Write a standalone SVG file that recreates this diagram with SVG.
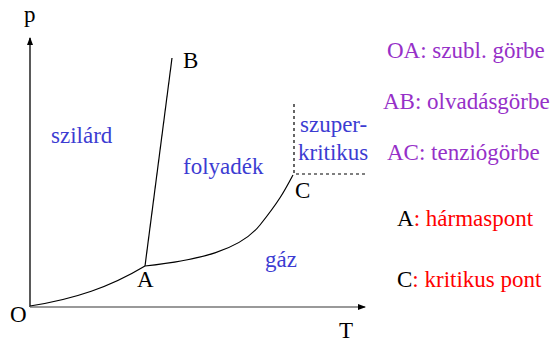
<svg xmlns="http://www.w3.org/2000/svg" width="555" height="342" viewBox="0 0 555 342">
<style>
text{font-family:"Liberation Serif",Tinos,"Times New Roman",Times,"Noto Serif","DejaVu Serif",serif;font-size:23px}
.blk{fill:#000}
.blue{fill:#3c3cd2}
.pur{fill:#9630c8}
.red{fill:#ff0000}
.curve{fill:none;stroke:#000;stroke-width:1.2}
.dash{fill:none;stroke:#000;stroke-width:1.2;stroke-dasharray:3,3}
</style>
<defs>
<marker id="ah" markerWidth="8" markerHeight="6" refX="7" refY="3" orient="auto" markerUnits="userSpaceOnUse">
<path d="M0,0 L8,3 L0,6 Z" fill="#000"/>
</marker>
</defs>
<rect width="555" height="342" fill="#fff"/>
<g id="connectors">
<line x1="30" y1="307" x2="30" y2="38" stroke="#000" stroke-width="1.3" marker-end="url(#ah)"/>
<line x1="30" y1="307" x2="365" y2="307" stroke="#999" stroke-width="2" marker-end="url(#ah)"/>
<path class="curve" d="M30,306 C75,299 110,287 145,266"/>
<path class="curve" d="M145,266 L172,58"/>
<path class="curve" d="M145,266 C200,260 240,250 260,225 S285,190 293,175"/>
<path class="dash" d="M294,104 L294,174 L367,174"/>
</g>
<g id="axis-labels">
<text x="24" y="22" class="blk" font-family="Liberation Serif, serif">p</text>
<text x="339" y="338" class="blk">T</text>
<text x="10" y="322" class="blk">O</text>
</g>
<g id="point-A"><text x="137" y="287" class="blk">A</text></g>
<g id="point-B"><text x="183" y="68" class="blk">B</text></g>
<g id="point-C"><text x="295" y="198" class="blk">C</text></g>
<g id="region-solid"><text x="51" y="143" class="blue">szilárd</text></g>
<g id="region-liquid"><text x="183" y="174" class="blue">folyadék</text></g>
<g id="region-gas"><text x="265" y="267" class="blue">gáz</text></g>
<g id="region-super">
<text x="300" y="132" class="blue">szuper-</text>
<text x="298" y="160" class="blue">kritikus</text>
</g>
<g id="legend">
<text x="387" y="58" class="pur">OA: szubl. görbe</text>
<text x="383" y="109" class="pur">AB: olvadásgörbe</text>
<text x="387" y="160" class="pur">AC: tenziógörbe</text>
<text x="397" y="226" class="blk">A<tspan class="red">: hármaspont</tspan></text>
<text x="397" y="287" class="blk">C<tspan class="red">: kritikus pont</tspan></text>
</g>
</svg>
